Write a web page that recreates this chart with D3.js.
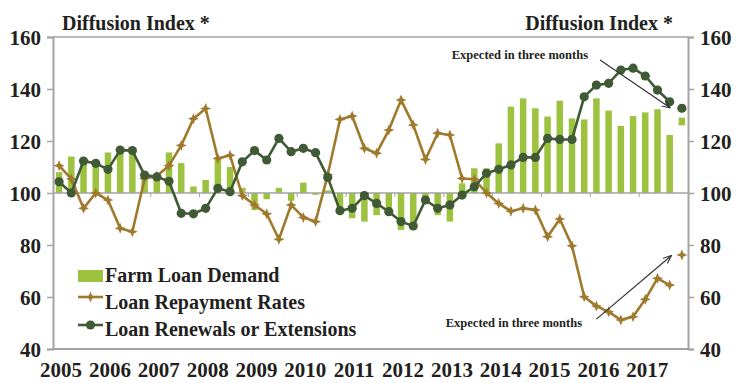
<!DOCTYPE html>
<html><head><meta charset="utf-8">
<script src="https://cdn.jsdelivr.net/npm/d3@7"></script>
<style>
html,body{margin:0;padding:0;background:#fff;}
svg text{font-family:"Liberation Serif","Times New Roman",serif;font-weight:bold;fill:#231f20;}
</style></head>
<body>
<svg id="chart" width="738" height="383"></svg>
<script>
const years = [2005,2006,2007,2008,2009,2010,2011,2012,2013,2014,2015,2016,2017];
const quarters = years.flatMap(y => ["Q1","Q2","Q3","Q4"].map(q => y + q));
const yTicks = [40,60,80,100,120,140,160];

// Farm Loan Demand (bars), 2005Q1 - 2017Q3
const demand = [108,114,113,112,115.6,116,115,107,105,115.6,111.5,102.5,105,113,110,102,93.5,97.6,102,97,104,99.3,101,92.2,90.3,89,91.5,92.8,85.8,87,96,91.5,89,103.7,109.5,109.5,119.1,133.2,136.4,132.6,129.4,135.5,128.7,128.3,136.4,131.7,125.8,129.6,131,132.2,122.3];
const demandExpected = 127.5;
// Loan Repayment Rates
const repayment = [110.5,105.4,94.1,100,97.3,86.4,85.1,105.6,106.5,110.5,118.3,128.6,132.5,113.3,114.5,99,95.4,92,82.2,95.4,90.6,89,107,128.3,129.6,117.2,115.3,124.2,135.8,126.2,112.9,123,122.3,105.6,105.3,100,96,93,94.1,93.5,83.2,90,79.7,60.1,56.5,54.3,51.2,52.4,59.1,67.2,64.6];
const repaymentExpected = 76.2;
// Loan Renewals or Extensions
const renewals = [104.3,100,112.3,111.4,109.1,116.5,116.3,106.9,106.2,104.5,92.2,92,94.1,101.8,100.5,112,116.3,112.7,121,115.9,117.2,115.5,106,93.2,94.1,99,96,92.8,89,87.3,97.3,94.1,95.4,99.2,102.4,107.6,109.1,110.8,113.7,113.7,121,120.6,120.6,137,141.5,142.2,147.3,148,145,139.6,135.1];
const renewalsExpected = 132.6;

const legendLabels = ["Farm Loan Demand","Loan Repayment Rates","Loan Renewals or Extensions"];
const axisTitle = "Diffusion Index *";
const noteText = "Expected in three months";
// annotation arrows in (quarter index, index value) units
const arrows = [
  {i0:44.3, v0:151.2, i1:50.0, v1:132.9},
  {i0:44.0, v0:51.5, i1:50.1, v1:75.8}
];

const colBar = "#9dc23f", colGold = "#a07a2c", colGreen = "#3f5a34", colGrid = "#a3a3a3", colText = "#231f20";

const svg = d3.select("#chart");
const L = 53, R = 688, T = 37, B = 349;
const x = d3.scaleBand().domain(quarters).range([L, R]);
const y = d3.scaleLinear().domain([40,160]).range([B, T]);
const xi = i => L + x.step() * (i + 0.5);
const xc = q => x(q) + x.bandwidth()/2;

// frame lines
svg.append("line").attr("x1",L).attr("x2",R).attr("y1",T).attr("y2",T).attr("stroke",colGrid).attr("stroke-width",1.5);
svg.append("line").attr("x1",L).attr("x2",R).attr("y1",B).attr("y2",B).attr("stroke",colGrid).attr("stroke-width",2);

// bars
const bw = 6.5;
svg.append("g").selectAll("rect").data(demand).join("rect")
  .attr("x", (d,i) => xc(quarters[i]) - bw/2)
  .attr("width", bw)
  .attr("y", d => y(Math.max(d,100)))
  .attr("height", d => Math.abs(y(d) - y(100)))
  .attr("fill", colBar);
svg.append("rect").attr("x", xc(quarters[51]) - bw/2).attr("width", bw)
  .attr("y", y(demandExpected + 1.5)).attr("height", y(demandExpected - 1.5) - y(demandExpected + 1.5))
  .attr("fill", colBar);

// 100 line
svg.append("line").attr("x1",L).attr("x2",R).attr("y1",y(100)).attr("y2",y(100)).attr("stroke",colGrid).attr("stroke-width",1.5);
// x ticks on 100 line at year boundaries
svg.append("g").selectAll("line").data(years.slice(1)).join("line")
  .attr("x1", d => x(d + "Q1")).attr("x2", d => x(d + "Q1"))
  .attr("y1", y(100)).attr("y2", y(100) + 4)
  .attr("stroke", colGrid).attr("stroke-width", 1);

// y axes
const axL = svg.append("g").attr("transform",`translate(${L},0)`)
  .call(d3.axisLeft(y).tickValues(yTicks).tickSize(6).tickPadding(6));
const axR = svg.append("g").attr("transform",`translate(${R},0)`)
  .call(d3.axisRight(y).tickValues(yTicks).tickSize(6).tickPadding(6));
[axL, axR].forEach(a => {
  a.select(".domain").attr("stroke", colGrid).attr("stroke-width", 2);
  a.selectAll(".tick line").attr("stroke", colGrid).attr("stroke-width", 1.5);
  a.selectAll(".tick text").attr("font-size", 21).attr("fill", colText)
    .style("font-family", '"Liberation Serif",serif').style("font-weight","bold").attr("dy","0.35em");
});

// x labels
svg.append("g").selectAll("text").data(years).join("text")
  .attr("x", d => xc(d + "Q1") + 2).attr("y", 377)
  .attr("text-anchor","middle").attr("font-size", 21).text(d => d);

// lines
const star = "M0,-5.5L1.6,-1.6L5.5,0L1.6,1.6L0,5.5L-1.6,1.6L-5.5,0L-1.6,-1.6Z";
const line = d3.line().x((d,i) => xc(quarters[i])).y(d => y(d));
svg.append("path").datum(repayment).attr("d", line).attr("fill","none")
  .attr("stroke", colGold).attr("stroke-width", 2.6).attr("stroke-linejoin","round");
svg.append("g").selectAll("path").data(repayment).join("path")
  .attr("d", star).attr("transform", (d,i) => `translate(${xc(quarters[i])},${y(d)})`).attr("fill", colGold);
svg.append("path").attr("d", star).attr("transform", `translate(${xc(quarters[51])},${y(repaymentExpected)})`).attr("fill", colGold);

svg.append("path").datum(renewals).attr("d", line).attr("fill","none")
  .attr("stroke", colGreen).attr("stroke-width", 2.6).attr("stroke-linejoin","round");
svg.append("g").selectAll("circle").data(renewals).join("circle")
  .attr("cx", (d,i) => xc(quarters[i])).attr("cy", d => y(d)).attr("r", 4.6).attr("fill", colGreen);
svg.append("circle").attr("cx", xc(quarters[51])).attr("cy", y(renewalsExpected)).attr("r", 4.6).attr("fill", colGreen);

// titles
svg.append("text").attr("x", 62).attr("y", 30).attr("font-size", 20).text(axisTitle);
svg.append("text").attr("x", 673).attr("y", 30).attr("font-size", 20).attr("text-anchor","end").text(axisTitle);

// annotations
const defs = svg.append("defs");
defs.append("marker").attr("id","arr").attr("viewBox","0 0 10 10").attr("refX",9).attr("refY",5)
  .attr("markerWidth",7).attr("markerHeight",7).attr("orient","auto")
  .append("path").attr("d","M0,1L10,5L0,9").attr("fill","none").attr("stroke","#333").attr("stroke-width",1.3);
svg.append("g").selectAll("line").data(arrows).join("line")
  .attr("x1", d => xi(d.i0)).attr("y1", d => y(d.v0)).attr("x2", d => xi(d.i1)).attr("y2", d => y(d.v1))
  .attr("stroke","#333").attr("stroke-width",1.2).attr("marker-end","url(#arr)");
svg.append("text").attr("x", 588).attr("y", 59).attr("text-anchor","end").attr("font-size", 12.5).text(noteText);
svg.append("text").attr("x", 582).attr("y", 327).attr("text-anchor","end").attr("font-size", 12.5).text(noteText);

// legend
const lg = svg.append("g");
lg.append("rect").attr("x",78).attr("y",270).attr("width",25).attr("height",12).attr("fill",colBar);
lg.append("line").attr("x1",78).attr("x2",103).attr("y1",297).attr("y2",297).attr("stroke",colGold).attr("stroke-width",2.6);
lg.append("path").attr("d",star).attr("transform","translate(90.5,297)").attr("fill",colGold);
lg.append("line").attr("x1",78).attr("x2",103).attr("y1",325).attr("y2",325).attr("stroke",colGreen).attr("stroke-width",2.6);
lg.append("circle").attr("cx",90.5).attr("cy",325).attr("r",4.6).attr("fill",colGreen);
lg.selectAll("text").data(legendLabels).join("text")
  .attr("x",105).attr("y",(d,i) => 282 + i*26.8).attr("font-size",20).text(d => d);
</script>
</body></html>
